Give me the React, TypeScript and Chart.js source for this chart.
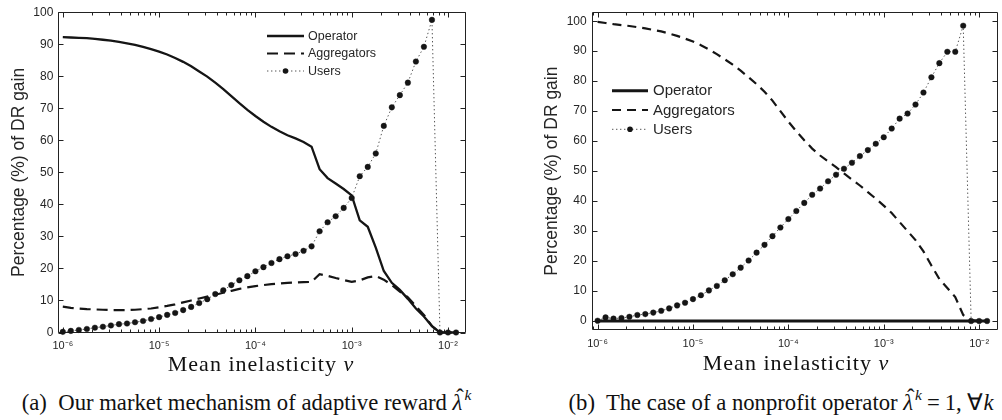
import React, { useEffect, useRef } from 'react';
import { Chart, registerables } from 'chart.js';

Chart.register(...registerables);

// ---------- data ----------
const inelasticity = [
  1.000e-6, 1.212e-6, 1.468e-6, 1.778e-6, 2.154e-6, 2.610e-6, 3.162e-6, 3.831e-6, 4.642e-6, 5.623e-6, 6.813e-6, 8.254e-6,
  1.000e-5, 1.212e-5, 1.468e-5, 1.778e-5, 2.154e-5, 2.610e-5, 3.162e-5, 3.831e-5, 4.642e-5, 5.623e-5, 6.813e-5, 8.254e-5,
  1.000e-4, 1.212e-4, 1.468e-4, 1.778e-4, 2.154e-4, 2.610e-4, 3.162e-4, 3.831e-4, 4.642e-4, 5.623e-4, 6.813e-4, 8.254e-4,
  1.000e-3, 1.212e-3, 1.468e-3, 1.778e-3, 2.154e-3, 2.610e-3, 3.162e-3, 3.831e-3, 4.642e-3, 5.623e-3, 6.813e-3, 8.254e-3,
  1.000e-2, 1.212e-2,
];

const seriesNames = ['Operator', 'Aggregators', 'Users'];

// (a) adaptive reward
const operatorA = [
  92.2, 92.1, 92.0, 91.9, 91.7, 91.4, 91.1, 90.7, 90.3, 89.8,
  89.2, 88.5, 87.7, 86.8, 85.7, 84.5, 83.1, 81.5, 79.9, 78.0,
  76.0, 73.8, 71.6, 69.5, 67.6, 65.8, 64.2, 62.8, 61.6, 60.6,
  59.5, 58.0, 51.0, 48.2, 46.5, 44.8, 42.8, 35.0, 33.0, 26.5,
  19.2, 15.5, 13.3, 10.5, 7.5, 5.0, 2.0, 0, 0, 0,
];
const aggregatorsA = [
  8.1, 7.7, 7.5, 7.3, 7.2, 7.1, 7.0, 7.0, 7.0, 7.1,
  7.3, 7.5, 7.9, 8.3, 8.8, 9.4, 10.0, 10.6, 11.2, 11.8,
  12.4, 13.0, 13.6, 14.1, 14.5, 14.8, 15.1, 15.3, 15.5, 15.6,
  15.7, 15.8, 18.2, 17.7, 17.0, 16.4, 15.8, 16.3, 17.2, 17.6,
  16.5, 14.8, 12.8, 11.0, 8.2, 5.5, 2.0, 0, 0, 0,
];
const usersA = [
  0.2, 0.5, 0.8, 1.1, 1.5, 1.8, 2.2, 2.6, 2.8, 3.2,
  3.6, 4.2, 4.8, 5.5, 6.1, 7.0, 8.0, 9.2, 10.4, 12.0,
  13.2, 14.8, 16.3, 17.6, 19.1, 20.4, 21.7, 22.9, 23.8, 24.5,
  25.5, 26.9, 31.6, 34.4, 36.3, 38.9, 42.0, 48.8, 51.7, 55.9,
  64.5, 70.3, 74.1, 78.0, 84.6, 89.2, 97.6, 0, 0, 0,
];

// (b) nonprofit operator
const operatorB = [
  0, 0, 0, 0, 0, 0, 0, 0, 0, 0,
  0, 0, 0, 0, 0, 0, 0, 0, 0, 0,
  0, 0, 0, 0, 0, 0, 0, 0, 0, 0,
  0, 0, 0, 0, 0, 0, 0, 0, 0, 0,
  0, 0, 0, 0, 0, 0, 0, 0, 0, 0,
];
const aggregatorsB = [
  99.8, 99.4, 99.0, 98.7, 98.4, 98.0, 97.6, 97.1, 96.6, 95.9,
  95.1, 94.2, 93.2, 92.0, 90.6, 89.0, 87.3, 85.5, 83.5, 81.3,
  79.0, 76.5, 73.5, 70.0, 66.5, 63.3, 60.3, 57.5, 55.2, 53.2,
  51.3, 49.2, 47.2, 45.2, 43.0, 40.8, 38.5, 36.0, 33.0, 30.0,
  27.0, 23.2, 18.5, 14.0, 11.0, 8.0, 2.0, 0.3, 0, 0,
];
const usersB = [
  0.1, 1.2, 0.8, 1.0, 1.4, 2.0, 2.3, 2.8, 3.4, 4.2,
  5.2, 6.1, 7.3, 8.6, 10.2, 11.7, 13.6, 15.6, 17.8, 20.2,
  22.8, 25.4, 28.3, 31.2, 34.0, 36.7, 39.4, 42.1, 44.2, 46.6,
  48.8, 50.8, 52.8, 55.0, 57.0, 59.1, 61.3, 64.2, 67.5, 69.2,
  72.2, 76.2, 81.3, 86.0, 89.8, 89.8, 98.5, 0, 0, 0,
];

const xTickValues = [1e-6, 1e-5, 1e-4, 1e-3, 1e-2];
const xTickLabels = ['10⁻⁶', '10⁻⁵', '10⁻⁴', '10⁻³', '10⁻²'];
const yTickValues = [0, 10, 20, 30, 40, 50, 60, 70, 80, 90, 100];
const yAxisTitle = 'Percentage (%) of DR gain';

// ---------- styling ----------
const SANS = '"Liberation Sans", Arial, Helvetica, sans-serif';
const SERIF = '"Liberation Serif", "Times New Roman", serif';
const INK = '#151515';
const AXIS = '#222222';
const TEXT = '#262626';

type PanelCfg = {
  width: number;
  height: number;
  padTop: number;
  padRight: number;
  yWidth: number;
  xHeight: number;
  xMin: number;
  xMax: number;
  yMin: number;
  yMax: number;
  titlePad: number;
  solidWidth: number;
  dash: number[];
  legend: { x0: number; x1: number; tx: number; y: number; rowH: number; size: number };
  series: number[][];
};

function makeDatasets(cfg: PanelCfg) {
  const [op, ag, us] = cfg.series;
  const pts = (arr: number[]) => inelasticity.map((x, i) => ({ x, y: arr[i] }));
  return [
    {
      label: seriesNames[0],
      data: pts(op),
      borderColor: INK,
      backgroundColor: INK,
      borderWidth: cfg.solidWidth,
      pointRadius: 0,
      fill: false,
      clip: false as const,
    },
    {
      label: seriesNames[1],
      data: pts(ag),
      borderColor: INK,
      backgroundColor: INK,
      borderWidth: 2.2,
      borderDash: cfg.dash,
      pointRadius: 0,
      fill: false,
      clip: false as const,
    },
    {
      label: seriesNames[2],
      data: pts(us),
      borderColor: '#555555',
      backgroundColor: INK,
      borderWidth: 1,
      borderDash: [1.4, 2.6],
      pointRadius: 2.8,
      pointBackgroundColor: INK,
      pointBorderColor: INK,
      pointBorderWidth: 0.4,
      fill: false,
      clip: false as const,
    },
  ];
}

function framePlugin(cfg: PanelCfg) {
  return {
    id: 'frame',
    beforeDatasetsDraw(chart: any) {
      const { ctx, chartArea: a, scales } = chart;
      const xs = scales.x;
      const ys = scales.y;
      const L = Math.round(a.left) + 0.5;
      const R = Math.round(a.right) - 0.5;
      const T = Math.round(a.top) + 0.5;
      const B = Math.round(a.bottom) - 0.5;
      ctx.save();
      ctx.strokeStyle = AXIS;
      ctx.lineWidth = 1;
      ctx.beginPath();
      ctx.rect(L, T, R - L, B - T);
      ctx.stroke();
      // x ticks (major + minor), inward on bottom and top
      ctx.beginPath();
      for (let e = -7; e <= -1; e++) {
        for (let m = 1; m <= 9; m++) {
          const v = m * Math.pow(10, e);
          if (v < xs.min || v > xs.max) continue;
          const px = Math.round(xs.getPixelForValue(v)) + 0.5;
          const len = m === 1 ? 5 : 3;
          ctx.moveTo(px, B);
          ctx.lineTo(px, B - len);
          ctx.moveTo(px, T);
          ctx.lineTo(px, T + len);
        }
      }
      // y ticks inward on left and right
      for (const t of ys.ticks) {
        const py = Math.round(ys.getPixelForValue(t.value)) + 0.5;
        ctx.moveTo(L, py);
        ctx.lineTo(L + 5, py);
        ctx.moveTo(R, py);
        ctx.lineTo(R - 5, py);
      }
      ctx.stroke();
      ctx.restore();
    },
    afterDatasetsDraw(chart: any) {
      const { ctx } = chart;
      const lg = cfg.legend;
      chart.data.datasets.forEach((ds: any, i: number) => {
        const y = lg.y + i * lg.rowH;
        ctx.save();
        ctx.strokeStyle = ds.borderColor;
        ctx.lineWidth = ds.borderWidth;
        ctx.setLineDash(ds.borderDash || []);
        ctx.beginPath();
        ctx.moveTo(lg.x0, y);
        ctx.lineTo(lg.x1, y);
        ctx.stroke();
        if (ds.pointRadius > 0) {
          ctx.setLineDash([]);
          ctx.fillStyle = ds.pointBackgroundColor;
          ctx.beginPath();
          ctx.arc((lg.x0 + lg.x1) / 2, y, ds.pointRadius, 0, Math.PI * 2);
          ctx.fill();
        }
        ctx.fillStyle = TEXT;
        ctx.font = `${lg.size}px ${SANS}`;
        ctx.textBaseline = 'middle';
        ctx.textAlign = 'left';
        ctx.fillText(ds.label, lg.tx, y + 0.5);
        ctx.restore();
      });
    },
  };
}

function Panel({ cfg, left }: { cfg: PanelCfg; left: number }) {
  const ref = useRef<HTMLCanvasElement | null>(null);
  useEffect(() => {
    if (!ref.current) return;
    const chart = new Chart(ref.current, {
      type: 'line',
      data: { datasets: makeDatasets(cfg) as any },
      options: {
        responsive: false,
        animation: false,
        events: [],
        layout: { padding: { left: 0, right: cfg.padRight, top: cfg.padTop, bottom: 0 } },
        plugins: { legend: { display: false }, tooltip: { enabled: false } },
        scales: {
          x: {
            type: 'logarithmic',
            min: cfg.xMin,
            max: cfg.xMax,
            afterBuildTicks: (s: any) => {
              s.ticks = xTickValues.map((v) => ({ value: v }));
            },
            afterFit: (s: any) => {
              s.height = cfg.xHeight;
            },
            grid: { display: false, drawTicks: false },
            border: { display: false },
            ticks: {
              autoSkip: false,
              maxRotation: 0,
              minRotation: 0,
              padding: 7,
              color: TEXT,
              font: { family: SANS, size: 11 },
              callback: (_v: any, i: number) => xTickLabels[i],
            },
          },
          y: {
            type: 'linear',
            min: cfg.yMin,
            max: cfg.yMax,
            afterBuildTicks: (s: any) => {
              s.ticks = yTickValues.map((v) => ({ value: v }));
            },
            afterFit: (s: any) => {
              s.width = cfg.yWidth;
            },
            grid: { display: false, drawTicks: false },
            border: { display: false },
            ticks: {
              padding: 5,
              color: TEXT,
              font: { family: SANS, size: 12 },
              callback: (v: any) => String(v),
            },
            title: {
              display: true,
              text: yAxisTitle,
              color: TEXT,
              font: { family: SANS, size: 17.5 },
              padding: { top: cfg.titlePad, bottom: 0 },
            },
          },
        },
      } as any,
      plugins: [framePlugin(cfg)],
    });
    return () => chart.destroy();
  }, [cfg]);
  return (
    <canvas
      ref={ref}
      width={cfg.width}
      height={cfg.height}
      style={{ position: 'absolute', left, top: 0, width: cfg.width, height: cfg.height }}
    />
  );
}

const panelA: PanelCfg = {
  width: 480,
  height: 385,
  padTop: 10,
  padRight: 14,
  yWidth: 58.3,
  xHeight: 52.5,
  xMin: 8.98e-7,
  xMax: 0.01538,
  yMin: 0,
  yMax: 100,
  titlePad: 9,
  solidWidth: 2.3,
  dash: [11, 6],
  legend: { x0: 267, x1: 304, tx: 308, y: 36, rowH: 17.5, size: 12.5 },
  series: [operatorA, aggregatorsA, usersA],
};

const panelB: PanelCfg = {
  width: 502,
  height: 385,
  padTop: 10,
  padRight: 3,
  yWidth: 91.7,
  xHeight: 55,
  xMin: 8.67e-7,
  xMax: 0.01563,
  yMin: -3,
  yMax: 103,
  titlePad: 42,
  solidWidth: 3,
  dash: [9, 6],
  legend: { x0: 112, x1: 148, tx: 153, y: 90.7, rowH: 19.3, size: 15 },
  series: [operatorB, aggregatorsB, usersB],
};

const serifText: React.CSSProperties = {
  position: 'absolute',
  fontFamily: SERIF,
  color: '#111',
  whiteSpace: 'nowrap',
  textAlign: 'center',
  lineHeight: '22px',
};

const supStyle: React.CSSProperties = {
  fontSize: '0.68em',
  fontStyle: 'italic',
  position: 'relative',
  top: '-0.62em',
  marginLeft: '2px',
};

function LambdaHat() {
  return (
    <span style={{ position: 'relative', display: 'inline-block', fontStyle: 'italic' }}>
      λ
      <span style={{ position: 'absolute', left: '0.16em', top: '-0.24em', fontStyle: 'normal' }}>ˆ</span>
    </span>
  );
}

export default function App() {
  useEffect(() => {
    document.body.style.margin = '0';
  }, []);
  return (
    <div style={{ position: 'absolute', left: 0, top: 0, width: 1002, height: 420, background: '#fff', overflow: 'hidden' }}>
      <Panel cfg={panelA} left={0} />
      <Panel cfg={panelB} left={500} />
      <div style={{ ...serifText, left: 111, width: 300, top: 353, fontSize: 22, letterSpacing: '1px' }}>
        Mean inelasticity <i>v</i>
      </div>
      <div style={{ ...serifText, left: 646, width: 300, top: 352, fontSize: 22, letterSpacing: '1px' }}>
        Mean inelasticity <i>v</i>
      </div>
      <div style={{ ...serifText, left: 0, width: 493, top: 392, fontSize: 22.7 }}>
        (a)&nbsp; Our market mechanism of adaptive reward <LambdaHat />
        <span style={supStyle}>k</span>
      </div>
      <div style={{ ...serifText, left: 541, width: 480, top: 392, fontSize: 22.7 }}>
        (b)&nbsp; The case of a nonprofit operator <LambdaHat />
        <span style={supStyle}>k</span>
        <span style={{ margin: '0 0.22em' }}>=</span>1, ∀<i>k</i>
      </div>
    </div>
  );
}
